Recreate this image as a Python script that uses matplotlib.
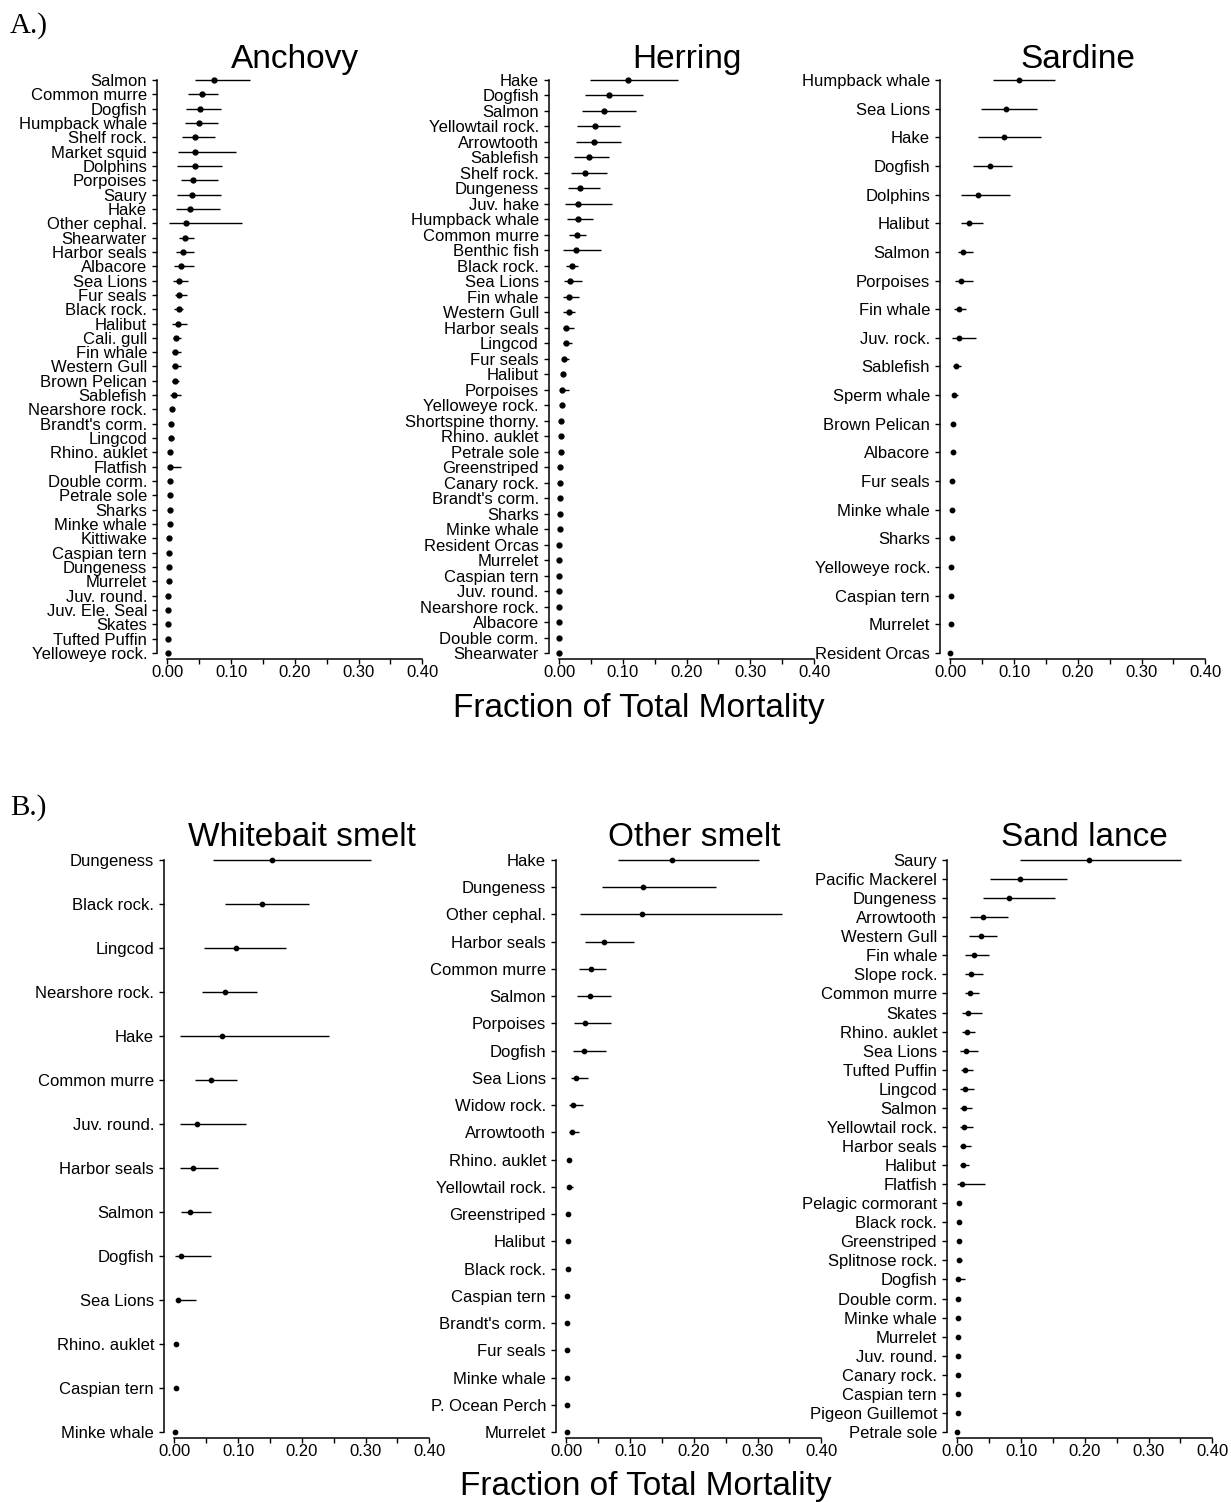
import matplotlib
matplotlib.use("Agg")
import matplotlib.pyplot as plt

plt.rcParams["font.family"] = ["Liberation Sans", "DejaVu Sans"]

# ---------------- data: predator, mean fraction, lower, upper ----------------
anchovy_names = ["Salmon", "Common murre", "Dogfish", "Humpback whale", "Shelf rock.",
                 "Market squid", "Dolphins", "Porpoises", "Saury", "Hake", "Other cephal.",
                 "Shearwater", "Harbor seals", "Albacore", "Sea Lions", "Fur seals",
                 "Black rock.", "Halibut", "Cali. gull", "Fin whale", "Western Gull",
                 "Brown Pelican", "Sablefish", "Nearshore rock.", "Brandt's corm.", "Lingcod",
                 "Rhino. auklet", "Flatfish", "Double corm.", "Petrale sole", "Sharks",
                 "Minke whale", "Kittiwake", "Caspian tern", "Dungeness", "Murrelet",
                 "Juv. round.", "Juv. Ele. Seal", "Skates", "Tufted Puffin", "Yelloweye rock."]
anchovy_est = [0.073, 0.054, 0.051, 0.050, 0.044, 0.044, 0.044, 0.041, 0.038, 0.035, 0.030,
               0.028, 0.025, 0.021, 0.019, 0.019, 0.018, 0.016, 0.014, 0.012, 0.012,
               0.0115, 0.010, 0.007, 0.0065, 0.0065, 0.005, 0.005, 0.0045, 0.0045, 0.004,
               0.0035, 0.002, 0.002, 0.002, 0.002, 0.0015, 0.0015, 0.0015, 0.001, 0.001]
anchovy_lo = [0.044, 0.033, 0.029, 0.028, 0.023, 0.017, 0.015, 0.021, 0.015, 0.014, 0.003,
              0.019, 0.014, 0.011, 0.009, 0.012, 0.011, 0.008, 0.009, 0.007, 0.007,
              0.007, 0.005, 0.005, 0.005, 0.004, 0.004, 0.001, 0.0035, 0.0035, 0.003,
              0.0025, 0.0015, 0.0015, 0.0015, 0.0015, 0.001, 0.001, 0.001, 0.0007, 0.0007]
anchovy_hi = [0.129, 0.080, 0.084, 0.080, 0.075, 0.108, 0.086, 0.080, 0.084, 0.083, 0.117,
              0.042, 0.042, 0.042, 0.032, 0.031, 0.025, 0.031, 0.021, 0.021, 0.021,
              0.018, 0.022, 0.009, 0.008, 0.010, 0.006, 0.022, 0.0055, 0.0055, 0.005,
              0.0045, 0.0025, 0.0025, 0.0025, 0.0025, 0.002, 0.002, 0.002, 0.0013, 0.0013]

herring_names = ["Hake", "Dogfish", "Salmon", "Yellowtail rock.", "Arrowtooth", "Sablefish",
                 "Shelf rock.", "Dungeness", "Juv. hake", "Humpback whale", "Common murre",
                 "Benthic fish", "Black rock.", "Sea Lions", "Fin whale", "Western Gull",
                 "Harbor seals", "Lingcod", "Fur seals", "Halibut", "Porpoises",
                 "Yelloweye rock.", "Shortspine thorny.", "Rhino. auklet", "Petrale sole",
                 "Greenstriped", "Canary rock.", "Brandt's corm.", "Sharks", "Minke whale",
                 "Resident Orcas", "Murrelet", "Caspian tern", "Juv. round.",
                 "Nearshore rock.", "Albacore", "Double corm.", "Shearwater"]
herring_est = [0.109, 0.078, 0.070, 0.056, 0.055, 0.047, 0.040, 0.033, 0.030, 0.030, 0.028,
               0.027, 0.020, 0.018, 0.016, 0.015, 0.0115, 0.0115, 0.008, 0.006, 0.005,
               0.004, 0.0035, 0.0026, 0.0026, 0.0016, 0.0016, 0.001, 0.001, 0.001,
               0.0007, 0.0007, 0.0007, 0.0007, 0.0007, 0.0007, 0.0007, 0.0005]
herring_lo = [0.048, 0.040, 0.036, 0.029, 0.027, 0.024, 0.019, 0.014, 0.009, 0.013, 0.015,
              0.007, 0.0115, 0.008, 0.007, 0.007, 0.006, 0.006, 0.004, 0.003, 0.0015,
              0.003, 0.0025, 0.002, 0.002, 0.001, 0.001, 0.0007, 0.0007, 0.0007,
              0.0005, 0.0005, 0.0005, 0.0005, 0.0005, 0.0005, 0.0005, 0.0003]
herring_hi = [0.186, 0.131, 0.120, 0.095, 0.097, 0.078, 0.075, 0.064, 0.083, 0.054, 0.043,
              0.066, 0.030, 0.036, 0.031, 0.025, 0.023, 0.021, 0.015, 0.010, 0.015,
              0.005, 0.0045, 0.0035, 0.0035, 0.0025, 0.0025, 0.0015, 0.0015, 0.0015,
              0.001, 0.001, 0.001, 0.001, 0.001, 0.001, 0.001, 0.0008]

sardine_names = ["Humpback whale", "Sea Lions", "Hake", "Dogfish", "Dolphins", "Halibut",
                 "Salmon", "Porpoises", "Fin whale", "Juv. rock.", "Sablefish", "Sperm whale",
                 "Brown Pelican", "Albacore", "Fur seals", "Minke whale", "Sharks",
                 "Yelloweye rock.", "Caspian tern", "Murrelet", "Resident Orcas"]
sardine_est = [0.108, 0.087, 0.084, 0.062, 0.043, 0.030, 0.020, 0.017, 0.013, 0.013, 0.009,
               0.006, 0.0047, 0.0037, 0.003, 0.0026, 0.002, 0.001, 0.001, 0.001, 0.0003]
sardine_lo = [0.067, 0.048, 0.044, 0.036, 0.017, 0.016, 0.0115, 0.008, 0.006, 0.003, 0.005,
              0.002, 0.0035, 0.0027, 0.002, 0.0018, 0.0013, 0.0006, 0.0006, 0.0006, 0.0001]
sardine_hi = [0.164, 0.136, 0.143, 0.096, 0.093, 0.051, 0.036, 0.036, 0.024, 0.041, 0.017,
              0.0125, 0.006, 0.005, 0.004, 0.0035, 0.003, 0.0015, 0.0015, 0.0015, 0.0006]

whitebait_names = ["Dungeness", "Black rock.", "Lingcod", "Nearshore rock.", "Hake",
                   "Common murre", "Juv. round.", "Harbor seals", "Salmon", "Dogfish",
                   "Sea Lions", "Rhino. auklet", "Caspian tern", "Minke whale"]
whitebait_est = [0.153, 0.137, 0.097, 0.080, 0.075, 0.058, 0.036, 0.029, 0.024, 0.010,
                 0.006, 0.003, 0.002, 0.0016]
whitebait_lo = [0.061, 0.080, 0.046, 0.044, 0.009, 0.033, 0.009, 0.009, 0.010, 0.001,
                0.002, 0.002, 0.0013, 0.001]
whitebait_hi = [0.309, 0.211, 0.175, 0.129, 0.242, 0.099, 0.112, 0.068, 0.057, 0.058,
                0.034, 0.004, 0.0027, 0.0022]

othersmelt_names = ["Hake", "Dungeness", "Other cephal.", "Harbor seals", "Common murre",
                    "Salmon", "Porpoises", "Dogfish", "Sea Lions", "Widow rock.", "Arrowtooth",
                    "Rhino. auklet", "Yellowtail rock.", "Greenstriped", "Halibut",
                    "Black rock.", "Caspian tern", "Brandt's corm.", "Fur seals",
                    "Minke whale", "P. Ocean Perch", "Murrelet"]
othersmelt_est = [0.166, 0.120, 0.118, 0.059, 0.039, 0.037, 0.029, 0.027, 0.015, 0.011, 0.009,
                  0.004, 0.0037, 0.003, 0.0026, 0.002, 0.0016, 0.001, 0.001, 0.001,
                  0.0008, 0.0005]
othersmelt_lo = [0.081, 0.056, 0.021, 0.030, 0.020, 0.017, 0.0125, 0.010, 0.007, 0.005, 0.004,
                 0.003, 0.002, 0.002, 0.0018, 0.0014, 0.001, 0.0007, 0.0007, 0.0007,
                 0.0005, 0.0003]
othersmelt_hi = [0.302, 0.235, 0.339, 0.106, 0.063, 0.070, 0.070, 0.062, 0.0345, 0.026, 0.020,
                 0.005, 0.010, 0.004, 0.0035, 0.003, 0.0022, 0.0015, 0.0015, 0.0015,
                 0.0012, 0.0008]

sandlance_names = ["Saury", "Pacific Mackerel", "Dungeness", "Arrowtooth", "Western Gull",
                   "Fin whale", "Slope rock.", "Common murre", "Skates", "Rhino. auklet",
                   "Sea Lions", "Tufted Puffin", "Lingcod", "Salmon", "Yellowtail rock.",
                   "Harbor seals", "Halibut", "Flatfish", "Pelagic cormorant", "Black rock.",
                   "Greenstriped", "Splitnose rock.", "Dogfish", "Double corm.",
                   "Minke whale", "Murrelet", "Juv. round.", "Canary rock.", "Caspian tern",
                   "Pigeon Guillemot", "Petrale sole"]
sandlance_est = [0.207, 0.098, 0.081, 0.040, 0.037, 0.026, 0.022, 0.020, 0.017, 0.015,
                 0.0136, 0.0125, 0.0115, 0.0105, 0.010, 0.009, 0.0084, 0.008, 0.0026,
                 0.002, 0.002, 0.002, 0.0016, 0.001, 0.001, 0.001, 0.001, 0.0005,
                 0.0005, 0.0005, 0.0003]
sandlance_lo = [0.099, 0.051, 0.041, 0.020, 0.019, 0.0115, 0.0115, 0.0115, 0.007, 0.008,
                0.004, 0.006, 0.005, 0.005, 0.004, 0.0037, 0.0037, 0.000, 0.002,
                0.0015, 0.0015, 0.001, 0.000, 0.0007, 0.0007, 0.0007, 0.0007, 0.0003,
                0.0003, 0.0003, 0.0001]
sandlance_hi = [0.351, 0.172, 0.154, 0.079, 0.063, 0.049, 0.041, 0.034, 0.039, 0.027,
                0.032, 0.025, 0.026, 0.0225, 0.024, 0.021, 0.018, 0.044, 0.0035,
                0.003, 0.003, 0.007, 0.0115, 0.0015, 0.0015, 0.0015, 0.0015, 0.0008,
                0.0008, 0.0008, 0.0006]

x_ticks = [0.0, 0.05, 0.10, 0.15, 0.20, 0.25, 0.30, 0.35, 0.40]
x_ticklabels = ["0.00", "", "0.10", "", "0.20", "", "0.30", "", "0.40"]

# ---------------- figure ----------------
W, H = 1231, 1502
fig = plt.figure(figsize=(W / 100, H / 100), dpi=100)
fig.patch.set_facecolor("white")


def panel(names, est, lo, hi, title, x0, x40, ytop, ybot, yaxis, title_base, ms):
    """One dot-and-whisker panel; geometry given in figure pixels."""
    n = len(names)
    span = x40 - x0
    left = x0 - 0.04 * span
    right = x40 + 0.04 * span
    step = (ybot - ytop) / (n - 1)
    ax = fig.add_axes([left / W, 1 - yaxis / H, (right - left) / W, (yaxis - ytop) / H])
    ax.set_xlim(-0.016, 0.416)
    ax.set_ylim((n - 1) + (yaxis - ybot) / step, 0)
    rows = list(range(n))
    ax.hlines(rows, lo, hi, color="black", lw=1.0, clip_on=False, zorder=2)
    ax.plot(est, rows, "o", color="black", ms=ms, clip_on=False, zorder=3)
    ax.set_yticks(rows)
    ax.set_yticklabels(names, fontsize=12)
    ax.set_xticks(x_ticks)
    ax.set_xticklabels(x_ticklabels, fontsize=12)
    for side in ("top", "right"):
        ax.spines[side].set_visible(False)
    ax.spines["left"].set_bounds(0, n - 1)
    ax.spines["bottom"].set_bounds(0, 0.4)
    for side in ("left", "bottom"):
        ax.spines[side].set_linewidth(1.1)
    ax.tick_params(axis="y", length=3.6, width=1.0, pad=3.6)
    ax.tick_params(axis="x", length=3.6, width=1.0, pad=1.0)
    ax.patch.set_alpha(0)
    fig.text((left + right) / 2 / W, 1 - title_base / H, title,
             ha="center", va="baseline", fontsize=24)
    return ax


# A.) top row
panel(anchovy_names, anchovy_est, anchovy_lo, anchovy_hi, "Anchovy",
      167.3, 422.3, 80, 653, 659, 68, 3.5)
panel(herring_names, herring_est, herring_lo, herring_hi, "Herring",
      559.0, 814.0, 80, 653, 659, 68, 3.5)
panel(sardine_names, sardine_est, sardine_lo, sardine_hi, "Sardine",
      950.3, 1205.3, 80, 653, 659, 68, 3.2)

# B.) bottom row
panel(whitebait_names, whitebait_est, whitebait_lo, whitebait_hi, "Whitebait smelt",
      174.3, 429.3, 860, 1432, 1438, 846, 3.1)
panel(othersmelt_names, othersmelt_est, othersmelt_lo, othersmelt_hi, "Other smelt",
      566.3, 821.3, 860, 1432, 1438, 846, 3.1)
panel(sandlance_names, sandlance_est, sandlance_lo, sandlance_hi, "Sand lance",
      957.3, 1212.3, 860, 1432, 1438, 846, 3.1)

fig.text(638.5 / W, 1 - 717 / H, "Fraction of Total Mortality",
         ha="center", va="baseline", fontsize=24)
fig.text(645.5 / W, 1 - 1495 / H, "Fraction of Total Mortality",
         ha="center", va="baseline", fontsize=24)

fig.text(10 / W, 1 - 33 / H, "A.)", ha="left", va="baseline", fontsize=21,
         family=["Liberation Serif", "DejaVu Serif"])
fig.text(10 / W, 1 - 815 / H, "B.)", ha="left", va="baseline", fontsize=21,
         family=["Liberation Serif", "DejaVu Serif"])

fig.savefig("out.png", dpi=100, facecolor="white")
